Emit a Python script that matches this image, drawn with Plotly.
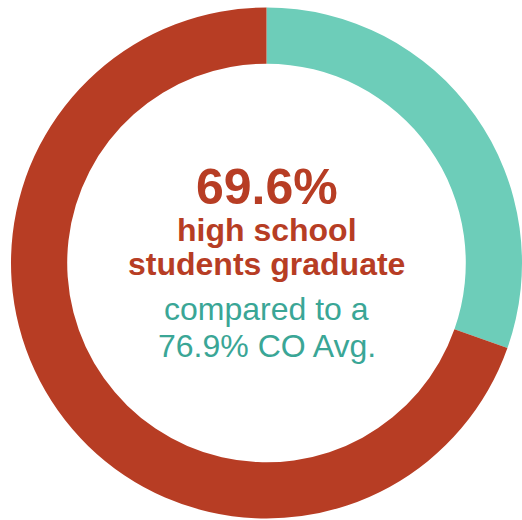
import plotly.graph_objects as go

# Graduation rate vs. the state average
grad_rate = 69.6
co_avg = 76.9
segments = ["Not graduating", "Graduating"]
values = [round(100 - grad_rate, 1), grad_rate]

RED = "#B73D24"
TEAL_RING = "#6DCDB9"
TEAL_TEXT = "#3AA696"
FONT = "Liberation Sans, Arial, sans-serif"

W, H = 522, 520
M_L, M_R, M_T, M_B = 11, 0, 6, 0
PLOT_H = H - M_T - M_B


def paper_y(px):
    return (H - M_B - px) / PLOT_H


fig = go.Figure(
    go.Pie(
        labels=segments,
        values=values,
        hole=0.78,
        sort=False,
        direction="clockwise",
        rotation=0,
        marker=dict(colors=[TEAL_RING, RED], line=dict(width=0)),
        textinfo="none",
        hoverinfo="label+value",
        showlegend=False,
    )
)

lines = [
    (f"<b>{grad_rate}%</b>", 50, RED, 187),
    ("<b>high school</b>", 32, RED, 230),
    ("<b>students graduate</b>", 32, RED, 264),
    ("compared to a", 32, TEAL_TEXT, 309),
    (f"{co_avg}% CO Avg.", 32, TEAL_TEXT, 346),
]
for text, size, color, ypx in lines:
    fig.add_annotation(
        text=text,
        x=0.5,
        y=paper_y(ypx),
        xref="paper",
        yref="paper",
        xanchor="center",
        yanchor="middle",
        showarrow=False,
        font=dict(family=FONT, size=size, color=color),
    )

fig.update_layout(
    width=W,
    height=H,
    margin=dict(l=M_L, r=M_R, t=M_T, b=M_B, pad=0),
    paper_bgcolor="white",
    plot_bgcolor="white",
)

fig.write_html("out.html")
